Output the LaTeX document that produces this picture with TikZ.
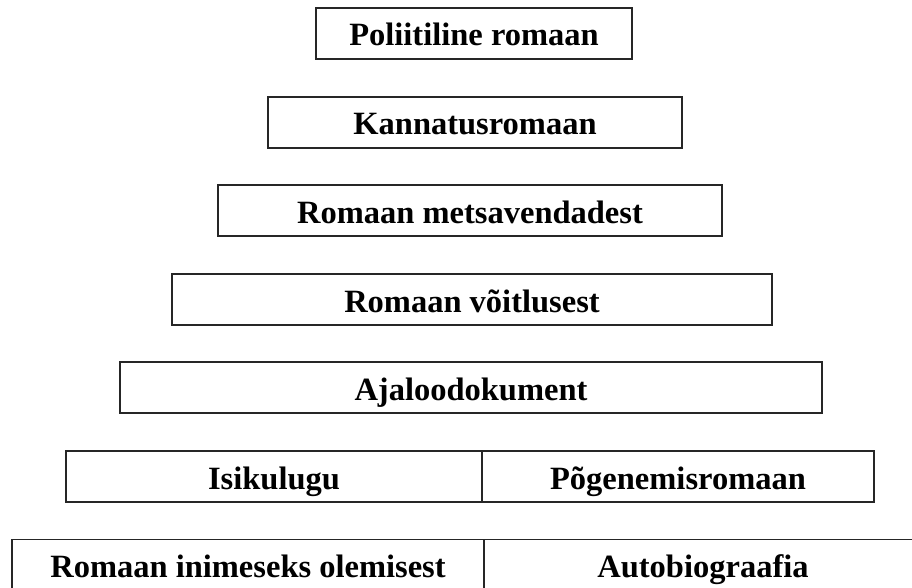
\documentclass[tikz,border=0pt]{standalone}
\usepackage{fontspec}
\setmainfont{Liberation Serif}
\begin{document}
\begin{tikzpicture}[x=1pt, y={(0pt,-1pt)},
  box/.style={draw=black!85, line width=1.4pt, fill=white, inner sep=0pt,
    minimum height=51pt, text height=27pt, text depth=2pt,
    font=\fontsize{32.5}{38}\selectfont\bfseries}]
  \useasboundingbox (0,0) rectangle (912,588);
  \clip (0,0) rectangle (912,588);
  % stacked single boxes
  \node[box, minimum width=316pt] (politic) at (474,33.5) {Poliitiline romaan};
  \node[box, minimum width=414pt] (suffer) at (475,122.5) {Kannatusromaan};
  \node[box, minimum width=504pt] (forest) at (470,210.5) {Romaan metsavendadest};
  \node[box, minimum width=600pt] (struggle) at (472,299.5) {Romaan võitlusest};
  \node[box, minimum width=702pt] (history) at (471,387.5) {Ajaloodokument};
  % split rows
  \node[box, minimum width=416pt] (personal) at (274,476.5) {Isikulugu};
  \node[box, minimum width=392pt] (escape) at (678,476.5) {Põgenemisromaan};
  \node[box, minimum width=472pt] (human) at (248,565) {Romaan inimeseks olemisest};
  \node[box, minimum width=438pt] (autobio) at (703,565) {Autobiograafia};
\end{tikzpicture}
\end{document}
